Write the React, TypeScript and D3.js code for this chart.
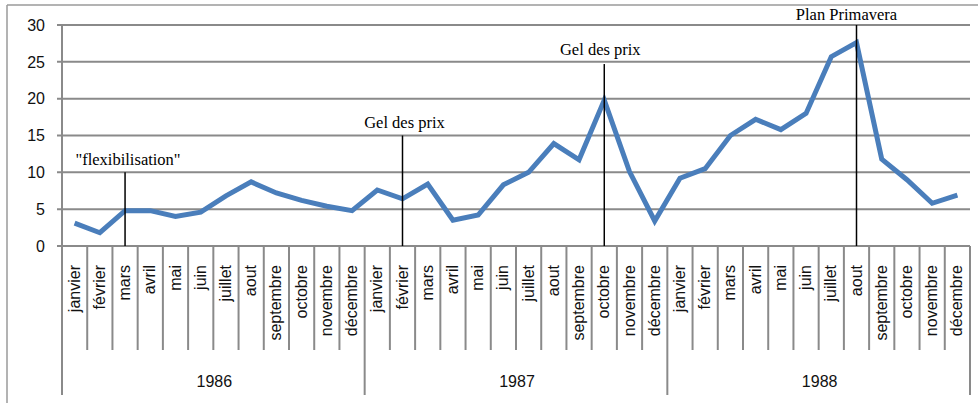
import { useMemo } from "react";
import * as d3 from "d3";

const WIDTH = 978;
const HEIGHT = 403;

const months = ["janvier", "février", "mars", "avril", "mai", "juin", "juillet", "aout", "septembre", "octobre", "novembre", "décembre"];
const years = ["1986", "1987", "1988"];

const values1986 = [3.1, 1.8, 4.8, 4.8, 4.0, 4.6, 6.8, 8.7, 7.2, 6.2, 5.4, 4.8];
const values1987 = [7.6, 6.4, 8.4, 3.5, 4.2, 8.3, 10.0, 13.9, 11.7, 19.8, 10.1, 3.4];
const values1988 = [9.2, 10.5, 15.0, 17.2, 15.8, 18.0, 25.7, 27.6, 11.8, 9.0, 5.8, 6.9];

const yTicks = [0, 5, 10, 15, 20, 25, 30];

// annotations: label, year index, month index, height of the marker line
const annotationLabels = ['"flexibilisation"', "Gel des prix", "Gel des prix", "Plan Primavera"];
const annotationYears = [0, 1, 1, 2];
const annotationMonths = [2, 1, 9, 7];
const annotationTops = [10, 15, 24.7, 30];
const LABEL_DX = [3, 2, -4, -10];
const LABEL_DY = [-7, -8, -9, -5];

const LEFT = 62;
const RIGHT = 970;
const TOP = 25;
const BOTTOM = 246;
const MONTH_TICK_END = 350;
const YEAR_TICK_END = 395;

const GRID = "#8a8a8a";
const SANS = "'Liberation Sans', Arial, sans-serif";
const SERIF = "'Liberation Serif', 'Times New Roman', serif";

type Point = { key: string; month: string; year: number; value: number };

export default function App() {
    const data: Point[] = useMemo(() => {
        const all = [values1986, values1987, values1988];
        return all.flatMap((vals, yi) =>
            vals.map((v, mi) => ({ key: `${yi}-${mi}`, month: months[mi], year: yi, value: v }))
        );
    }, []);

    const x = d3.scaleBand<string>().domain(data.map(d => d.key)).range([LEFT, RIGHT]).padding(0);
    const y = d3.scaleLinear().domain([0, 30]).range([BOTTOM, TOP]);
    const step = x.step();

    const line = d3
        .line<Point>()
        .x(d => (x(d.key) as number) + step / 2)
        .y(d => y(d.value));

    const yearX = d3.range(years.length + 1).map(i => LEFT + i * 12 * step);

    return (
        <svg width={WIDTH} height={HEIGHT} style={{ position: "absolute", left: 0, top: 0 }}>
            <rect width={WIDTH} height={HEIGHT} fill="#fff" />
            {/* outer frame */}
            <line x1={7} x2={WIDTH} y1={5} y2={5} stroke="#9a9a9a" strokeWidth={1.5} />
            <line x1={7} x2={7} y1={5} y2={HEIGHT} stroke="#9a9a9a" strokeWidth={1.5} />

            {/* grid + y ticks */}
            {yTicks.map(t => (
                <g key={t}>
                    <line x1={LEFT - 5} x2={RIGHT} y1={y(t)} y2={y(t)} stroke={GRID} strokeWidth={2} />
                    <text x={45} y={y(t)} dy="0.36em" textAnchor="end" fontFamily={SANS} fontSize={16} fill="#111">
                        {t}
                    </text>
                </g>
            ))}
            <line x1={LEFT} x2={LEFT} y1={TOP} y2={YEAR_TICK_END} stroke={GRID} strokeWidth={2} />

            {/* month dividers and labels */}
            {data.map((d, i) => {
                const x0 = x(d.key) as number;
                const cx = x0 + step / 2;
                return (
                    <g key={d.key}>
                        {i % 12 !== 0 && (
                            <line x1={x0} x2={x0} y1={BOTTOM} y2={MONTH_TICK_END} stroke={GRID} strokeWidth={2} />
                        )}
                        <text
                            transform={`translate(${cx + 5},265) rotate(-90)`}
                            textAnchor="end"
                            fontFamily={SANS}
                            fontSize={16}
                            fill="#111"
                        >
                            {d.month}
                        </text>
                    </g>
                );
            })}

            {/* year dividers and labels */}
            {yearX.map((yx, i) => (
                <line key={i} x1={yx} x2={yx} y1={BOTTOM} y2={YEAR_TICK_END} stroke={GRID} strokeWidth={2} />
            ))}
            {years.map((yr, i) => (
                <text
                    key={yr}
                    x={(yearX[i] + yearX[i + 1]) / 2 + 1}
                    y={387}
                    textAnchor="middle"
                    fontFamily={SANS}
                    fontSize={16}
                    fill="#111"
                >
                    {yr}
                </text>
            ))}

            {/* data */}
            <path d={line(data) || ""} fill="none" stroke="#4a7ebb" strokeWidth={5} strokeLinejoin="miter" />

            {/* annotations */}
            {annotationLabels.map((label, i) => {
                const key = `${annotationYears[i]}-${annotationMonths[i]}`;
                const ax = (x(key) as number) + step / 2;
                const top = y(annotationTops[i]);
                return (
                    <g key={i}>
                        <line x1={ax} x2={ax} y1={BOTTOM} y2={top} stroke="#000" strokeWidth={1.5} />
                        <text
                            x={ax + LABEL_DX[i]}
                            y={top + LABEL_DY[i]}
                            textAnchor="middle"
                            fontFamily={SERIF}
                            fontSize={16.5}
                            fill="#000"
                        >
                            {label}
                        </text>
                    </g>
                );
            })}
        </svg>
    );
}
